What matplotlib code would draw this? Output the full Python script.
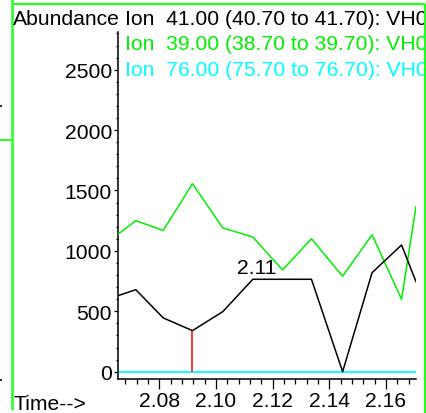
import matplotlib
matplotlib.use('Agg')
import matplotlib.pyplot as plt
from matplotlib.ticker import MultipleLocator, FixedLocator
from matplotlib.transforms import Bbox

# ---- data ----
times = [2.0654, 2.0717, 2.0814, 2.0917, 2.1024, 2.1130, 2.1235, 2.1337,
         2.1447, 2.1551, 2.1655, 2.1706]
ion41 = [629, 679, 445, 340, 497, 765, 765, 765, 0, 820, 1049, 745]
ion39 = [1137, 1250, 1170, 1556, 1190, 1115, 842, 1101, 790, 1134, 599, 1366]
ion76 = [0, 0, 0, 0, 0, 0, 0, 0, 0, 0, 0, 0]
series_labels = ["Ion  41.00 (40.70 to 41.70): VH0",
                 "Ion  39.00 (38.70 to 39.70): VH0",
                 "Ion  76.00 (75.70 to 76.70): VH0"]
yticks = [0, 500, 1000, 1500, 2000, 2500]
xticks = [2.08, 2.10, 2.12, 2.14, 2.16]
xticklabels = ["2.08", "2.10", "2.12", "2.14", "2.16"]
peak_time = 2.1130
peak_value = 765
peak_label = "2.11"
marker_index = 3

W, H = 427, 414
plt.rcParams['font.family'] = ['Liberation Sans', 'DejaVu Sans']
FS = 15.2
BLACK = '#000000'
GREEN = '#00f000'
CYAN = '#00ffff'
BORDER = '#22ff22'

fig = plt.figure(figsize=(W / 100, H / 100), dpi=100)
fig.patch.set_facecolor('white')

# overlay in pixel coordinates for the window frame decorations
bg = fig.add_axes([0, 0, 1, 1])
bg.set_xlim(0, W)
bg.set_ylim(H, 0)
bg.axis('off')
bg.plot([12, 12], [0, 411], color=BORDER, lw=1.8, solid_capstyle='butt')
bg.plot([12, 425], [5, 5], color=BORDER, lw=1.6, solid_capstyle='butt')
bg.plot([425, 425], [5, 414], color=BORDER, lw=1.6, solid_capstyle='butt')
bg.plot([0, 11], [141, 141], color=BORDER, lw=1.4, solid_capstyle='butt')
bg.plot([0, 2.5], [107, 107], color='black', lw=1.2, solid_capstyle='butt')
bg.plot([0, 2.5], [381, 381], color='black', lw=1.2, solid_capstyle='butt')

ax = fig.add_axes([118 / W, 1 - 380 / H, 298 / W, 347 / H])
ax.set_xlim(2.06542, 2.1706)
ax.set_ylim(-60.4, 2812)
ax.patch.set_alpha(0)

ax.plot(times, ion76, color=CYAN, lw=1.3, zorder=2)
ax.plot(times, ion39, color=GREEN, lw=1.1, zorder=3)
ax.plot(times, ion41, color=BLACK, lw=1.1, zorder=4)
ax.vlines(times[marker_index], 0, ion41[marker_index], color='#ff0000', lw=1.1, zorder=5)
ax.annotate(peak_label, xy=(peak_time, peak_value), xytext=(2.5, 4.3),
            textcoords='offset points', ha='center', va='baseline', fontsize=FS)

for s in ['top', 'right']:
    ax.spines[s].set_visible(False)
for s in ['left', 'bottom']:
    ax.spines[s].set_linewidth(1.1)

ax.xaxis.set_major_locator(FixedLocator(xticks))
ax.set_xticklabels(xticklabels)
ax.xaxis.set_minor_locator(MultipleLocator(0.004))
ax.yaxis.set_major_locator(FixedLocator(yticks))
ax.set_yticklabels([str(v) for v in yticks])
ax.yaxis.set_minor_locator(MultipleLocator(100))
ax.tick_params(axis='x', which='major', length=7.2, width=0.9, pad=1.8, labelsize=FS)
ax.tick_params(axis='x', which='minor', length=3.6, width=0.9)
ax.tick_params(axis='y', which='major', length=3, width=0.9, pad=1.4, labelsize=FS)
ax.tick_params(axis='y', which='minor', length=1.4, width=0.9)

# header texts (clipped at the window's right frame)
clip = Bbox([[0, 0], [424, H]])
fig.text(12.7 / W, 1 - 25 / H, "Abundance", fontsize=FS, va='baseline', ha='left')
colors = [BLACK, GREEN, CYAN]
baselines = [25, 50.5, 76]
for lab, c, b in zip(series_labels, colors, baselines):
    t = fig.text(125.3 / W, 1 - b / H, lab, fontsize=FS, color=c, va='baseline', ha='left')
    t.set_clip_box(clip)
    t.set_clip_on(True)
fig.text(13.3 / W, 1 - 410 / H, "Time-->", fontsize=FS, va='baseline', ha='left')

fig.savefig('out.png', dpi=100)
